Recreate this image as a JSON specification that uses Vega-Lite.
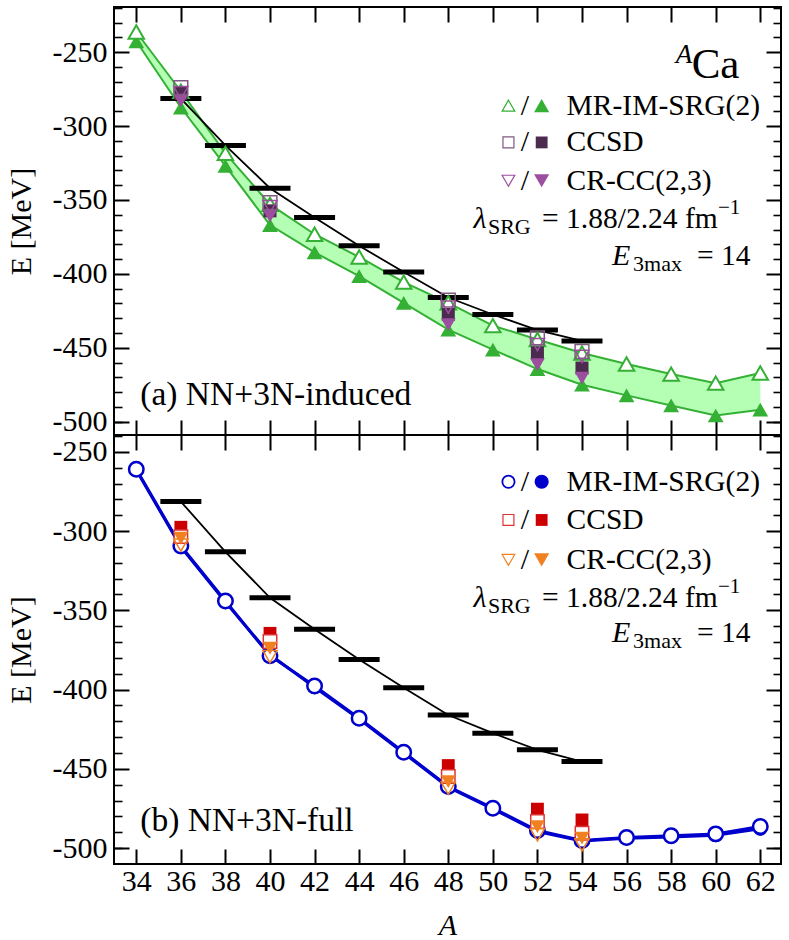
{
  "$schema": "https://vega.github.io/schema/vega-lite/v6.json",
  "padding": {"left": 5, "top": 5, "right": 8, "bottom": 5},
  "background": "white",
  "spacing": 0,
  "bounds": "flush",
  "config": {
    "font": "Liberation Serif",
    "view": {"stroke": "black", "strokeWidth": 2},
    "concat": {"spacing": 0},
    "axis": {"domain": false, "grid": false, "tickColor": "black", "tickWidth": 2, "labelFont": "Liberation Serif", "labelFontSize": 30, "labelColor": "black", "titleFont": "Liberation Serif", "titleFontSize": 30, "titleColor": "black", "titleFontWeight": "normal", "labelExpr": "replace(datum.label, '−', '-')"}
  },
  "datasets": {
    "exp": [
      {"A": 36, "E": -281.4}, {"A": 38, "E": -313.1}, {"A": 40, "E": -342.1}, {"A": 42, "E": -361.9}, {"A": 44, "E": -381.0},
      {"A": 46, "E": -398.8}, {"A": 48, "E": -416.0}, {"A": 50, "E": -427.5}, {"A": 52, "E": -438.0}, {"A": 54, "E": -445.4}
    ],
    "imsrgA": [
      {"A": 34, "open": -236.4, "filled": -242.7}, {"A": 36, "open": -276.5, "filled": -287.5}, {"A": 38, "open": -318.5, "filled": -327.0},
      {"A": 40, "open": -353.0, "filled": -367.0}, {"A": 42, "open": -373.2, "filled": -385.5}, {"A": 44, "open": -388.6, "filled": -401.5},
      {"A": 46, "open": -405.6, "filled": -419.6}, {"A": 48, "open": -419.6, "filled": -437.7}, {"A": 50, "open": -435.0, "filled": -451.2},
      {"A": 52, "open": -444.4, "filled": -464.4}, {"A": 54, "open": -453.5, "filled": -475.0}, {"A": 56, "open": -461.0, "filled": -482.2},
      {"A": 58, "open": -467.8, "filled": -489.0}, {"A": 60, "open": -473.9, "filled": -495.8}, {"A": 62, "open": -467.1, "filled": -491.9}
    ],
    "ccA": [
      {"A": 36, "m": "CCSD", "open": -274.0, "filled": -278.0}, {"A": 40, "m": "CCSD", "open": -351.8, "filled": -357.4},
      {"A": 48, "m": "CCSD", "open": -417.8, "filled": -427.5}, {"A": 52, "m": "CCSD", "open": -443.3, "filled": -453.5},
      {"A": 54, "m": "CCSD", "open": -452.4, "filled": -463.7},
      {"A": 36, "m": "CRCC", "open": -277.5, "filled": -283.0}, {"A": 40, "m": "CRCC", "open": -354.5, "filled": -361.0},
      {"A": 48, "m": "CRCC", "open": -422.5, "filled": -434.3}, {"A": 52, "m": "CRCC", "open": -447.8, "filled": -461.4},
      {"A": 54, "m": "CRCC", "open": -455.8, "filled": -470.5}
    ],
    "imsrgB": [
      {"A": 34, "open": -261.0, "filled": -261.5}, {"A": 36, "open": -309.4, "filled": -310.0}, {"A": 38, "open": -344.1, "filled": -344.8},
      {"A": 40, "open": -378.6, "filled": -378.0}, {"A": 42, "open": -397.7, "filled": -398.5}, {"A": 44, "open": -418.0, "filled": -418.5},
      {"A": 46, "open": -439.5, "filled": -440.0}, {"A": 48, "open": -461.1, "filled": -461.5}, {"A": 50, "open": -474.8, "filled": -475.3},
      {"A": 52, "open": -488.9, "filled": -489.5}, {"A": 54, "open": -495.2, "filled": -495.5}, {"A": 56, "open": -493.3, "filled": -493.8},
      {"A": 58, "open": -492.2, "filled": -492.9}, {"A": 60, "open": -491.0, "filled": -491.8}, {"A": 62, "open": -486.4, "filled": -487.8}
    ],
    "ccB": [
      {"A": 36, "m": "CCSD", "open": -303.5, "filled": -297.6}, {"A": 40, "m": "CCSD", "open": -369.7, "filled": -364.5},
      {"A": 48, "m": "CCSD", "open": -454.8, "filled": -447.9}, {"A": 52, "m": "CCSD", "open": -483.2, "filled": -475.4},
      {"A": 54, "m": "CCSD", "open": -490.6, "filled": -482.2},
      {"A": 36, "m": "CRCC", "open": -308.8, "filled": -304.5}, {"A": 40, "m": "CRCC", "open": -379.2, "filled": -373.9},
      {"A": 48, "m": "CRCC", "open": -462.2, "filled": -458.0}, {"A": 52, "m": "CRCC", "open": -491.6, "filled": -486.4},
      {"A": 54, "m": "CRCC", "open": -497.9, "filled": -493.7}
    ],
    "carrier": [{"A": 40, "E": -300}],
    "legA": [
      {"A": 50.7, "E": -286.2, "s": "tri_open"}, {"A": 52.19, "E": -286.2, "s": "tri_filled"},
      {"A": 50.7, "E": -311.1, "s": "sq_open"}, {"A": 52.19, "E": -311.1, "s": "sq_filled"},
      {"A": 50.7, "E": -337.0, "s": "dn_open"}, {"A": 52.19, "E": -337.0, "s": "dn_filled"}
    ],
    "textA": [
      {"A": 51.44, "E": -286.2, "t": "/", "k": "slash"}, {"A": 51.44, "E": -311.1, "t": "/", "k": "slash"}, {"A": 51.44, "E": -337.0, "t": "/", "k": "slash"},
      {"A": 53.31, "E": -286.2, "t": "MR-IM-SRG(2)", "k": "main"}, {"A": 53.31, "E": -311.1, "t": "CCSD", "k": "main"}, {"A": 53.31, "E": -337.0, "t": "CR-CC(2,3)", "k": "main"},
      {"A": 52.21, "E": -363.0, "t": "= 1.88/2.24 fm", "k": "main"}, {"A": 59.16, "E": -387.9, "t": "= 14", "k": "main"},
      {"A": 49.13, "E": -363.0, "t": "λ", "k": "ital"}, {"A": 55.35, "E": -387.9, "t": "E", "k": "ital"},
      {"A": 49.78, "E": -363.0, "t": "SRG", "k": "sub"}, {"A": 56.29, "E": -387.9, "t": "3max", "k": "sub"},
      {"A": 60.1, "E": -363.0, "t": "−1", "k": "sup"},
      {"A": 58.21, "E": -252.2, "t": "A", "k": "supital"},
      {"A": 58.92, "E": -259.0, "t": "Ca", "k": "big"},
      {"A": 34.18, "E": -481.7, "t": "(a) NN+3N-induced", "k": "panel"}
    ],
    "legB": [
      {"A": 50.7, "E": -268.9, "s": "c_open"}, {"A": 52.19, "E": -268.9, "s": "c_filled"},
      {"A": 50.7, "E": -293.0, "s": "sq_open"}, {"A": 52.19, "E": -293.0, "s": "sq_filled"},
      {"A": 50.7, "E": -318.2, "s": "dn_open"}, {"A": 52.19, "E": -318.2, "s": "dn_filled"}
    ],
    "textB": [
      {"A": 51.44, "E": -268.9, "t": "/", "k": "slash"}, {"A": 51.44, "E": -293.0, "t": "/", "k": "slash"}, {"A": 51.44, "E": -318.2, "t": "/", "k": "slash"},
      {"A": 53.31, "E": -268.9, "t": "MR-IM-SRG(2)", "k": "main"}, {"A": 53.31, "E": -293.0, "t": "CCSD", "k": "main"}, {"A": 53.31, "E": -318.2, "t": "CR-CC(2,3)", "k": "main"},
      {"A": 52.21, "E": -342.4, "t": "= 1.88/2.24 fm", "k": "main"}, {"A": 59.16, "E": -364.4, "t": "= 14", "k": "main"},
      {"A": 49.13, "E": -342.4, "t": "λ", "k": "ital"}, {"A": 55.35, "E": -364.4, "t": "E", "k": "ital"},
      {"A": 49.78, "E": -342.4, "t": "SRG", "k": "sub"}, {"A": 56.29, "E": -364.4, "t": "3max", "k": "sub"},
      {"A": 60.1, "E": -342.4, "t": "−1", "k": "sup"},
      {"A": 34.18, "E": -483.0, "t": "(b) NN+3N-full", "k": "panel"}
    ]
  },
  "vconcat": [
    {
      "width": 667,
      "height": 428,
      "resolve": {"axis": {"x": "independent", "y": "independent"}},
      "layer": [
        {"data": {"name": "imsrgA"}, "mark": {"type": "area", "color": "#b4ffb4"},
         "encoding": {"x": {"field": "A", "type": "quantitative", "scale": {"domain": [33, 62.93], "nice": false, "zero": false}, "axis": null},
                      "y": {"field": "open", "type": "quantitative", "scale": {"domain": [-509, -219.5], "nice": false, "zero": false}, "axis": null},
                      "y2": {"field": "filled"}}},
        {"data": {"name": "imsrgA"}, "mark": {"type": "line", "color": "#34b034", "strokeWidth": 2},
         "encoding": {"x": {"field": "A", "type": "quantitative", "scale": {"domain": [33, 62.93], "nice": false, "zero": false}, "axis": null},
                      "y": {"field": "open", "type": "quantitative", "scale": {"domain": [-509, -219.5], "nice": false, "zero": false}, "axis": null}}},
        {"data": {"name": "imsrgA"}, "mark": {"type": "line", "color": "#34b034", "strokeWidth": 2},
         "encoding": {"x": {"field": "A", "type": "quantitative", "scale": {"domain": [33, 62.93], "nice": false, "zero": false}, "axis": null},
                      "y": {"field": "filled", "type": "quantitative", "scale": {"domain": [-509, -219.5], "nice": false, "zero": false}, "axis": null}}},
        {"data": {"name": "exp"}, "mark": {"type": "line", "color": "black", "strokeWidth": 1.8},
         "encoding": {"x": {"field": "A", "type": "quantitative", "scale": {"domain": [33, 62.93], "nice": false, "zero": false}, "axis": null},
                      "y": {"field": "E", "type": "quantitative", "scale": {"domain": [-509, -219.5], "nice": false, "zero": false}, "axis": null}}},
        {"data": {"name": "exp"}, "mark": {"type": "tick", "orient": "horizontal", "color": "black", "size": 41, "thickness": 5, "opacity": 1},
         "encoding": {"x": {"field": "A", "type": "quantitative", "scale": {"domain": [33, 62.93], "nice": false, "zero": false}, "axis": null},
                      "y": {"field": "E", "type": "quantitative", "scale": {"domain": [-509, -219.5], "nice": false, "zero": false}, "axis": null}}},
        {"data": {"name": "imsrgA"}, "mark": {"type": "point", "shape": "triangle-up", "filled": true, "color": "#34b034", "size": 250, "opacity": 1},
         "encoding": {"x": {"field": "A", "type": "quantitative", "scale": {"domain": [33, 62.93], "nice": false, "zero": false}, "axis": null},
                      "y": {"field": "filled", "type": "quantitative", "scale": {"domain": [-509, -219.5], "nice": false, "zero": false}, "axis": null}}},
        {"data": {"name": "imsrgA"}, "mark": {"type": "point", "shape": "triangle-up", "filled": true, "fill": "white", "stroke": "#34b034", "strokeWidth": 2, "size": 240, "opacity": 1},
         "encoding": {"x": {"field": "A", "type": "quantitative", "scale": {"domain": [33, 62.93], "nice": false, "zero": false}, "axis": null},
                      "y": {"field": "open", "type": "quantitative", "scale": {"domain": [-509, -219.5], "nice": false, "zero": false}, "axis": null}}},
        {"data": {"name": "ccA"}, "transform": [{"filter": "datum.m == 'CCSD'"}], "mark": {"type": "point", "shape": "square", "filled": true, "color": "#4d2a4f", "size": 170, "opacity": 1},
         "encoding": {"x": {"field": "A", "type": "quantitative", "scale": {"domain": [33, 62.93], "nice": false, "zero": false}, "axis": null},
                      "y": {"field": "filled", "type": "quantitative", "scale": {"domain": [-509, -219.5], "nice": false, "zero": false}, "axis": null}}},
        {"data": {"name": "ccA"}, "transform": [{"filter": "datum.m == 'CRCC'"}], "mark": {"type": "point", "shape": "triangle-down", "filled": true, "color": "#9c4f9e", "size": 220, "opacity": 1},
         "encoding": {"x": {"field": "A", "type": "quantitative", "scale": {"domain": [33, 62.93], "nice": false, "zero": false}, "axis": null},
                      "y": {"field": "filled", "type": "quantitative", "scale": {"domain": [-509, -219.5], "nice": false, "zero": false}, "axis": null}}},
        {"data": {"name": "ccA"}, "transform": [{"filter": "datum.m == 'CCSD'"}], "mark": {"type": "point", "shape": "square", "filled": false, "color": "#7f5a80", "strokeWidth": 1.5, "size": 190, "opacity": 1},
         "encoding": {"x": {"field": "A", "type": "quantitative", "scale": {"domain": [33, 62.93], "nice": false, "zero": false}, "axis": null},
                      "y": {"field": "open", "type": "quantitative", "scale": {"domain": [-509, -219.5], "nice": false, "zero": false}, "axis": null}}},
        {"data": {"name": "ccA"}, "transform": [{"filter": "datum.m == 'CRCC'"}], "mark": {"type": "point", "shape": "triangle-down", "filled": false, "color": "#9c4f9e", "strokeWidth": 1.5, "size": 200, "opacity": 1},
         "encoding": {"x": {"field": "A", "type": "quantitative", "scale": {"domain": [33, 62.93], "nice": false, "zero": false}, "axis": null},
                      "y": {"field": "open", "type": "quantitative", "scale": {"domain": [-509, -219.5], "nice": false, "zero": false}, "axis": null}}},
        {"data": {"name": "legA"}, "transform": [{"filter": "datum.s == 'tri_open'"}], "mark": {"type": "point", "shape": "triangle-up", "filled": false, "color": "#34b034", "strokeWidth": 1.2, "size": 160, "opacity": 1},
         "encoding": {"x": {"field": "A", "type": "quantitative", "scale": {"domain": [33, 62.93], "nice": false, "zero": false}, "axis": null},
                      "y": {"field": "E", "type": "quantitative", "scale": {"domain": [-509, -219.5], "nice": false, "zero": false}, "axis": null}}},
        {"data": {"name": "legA"}, "transform": [{"filter": "datum.s == 'tri_filled'"}], "mark": {"type": "point", "shape": "triangle-up", "filled": true, "color": "#34b034", "size": 230, "opacity": 1},
         "encoding": {"x": {"field": "A", "type": "quantitative", "scale": {"domain": [33, 62.93], "nice": false, "zero": false}, "axis": null},
                      "y": {"field": "E", "type": "quantitative", "scale": {"domain": [-509, -219.5], "nice": false, "zero": false}, "axis": null}}},
        {"data": {"name": "legA"}, "transform": [{"filter": "datum.s == 'sq_open'"}], "mark": {"type": "point", "shape": "square", "filled": false, "color": "#7f5a80", "strokeWidth": 1.2, "size": 120, "opacity": 1},
         "encoding": {"x": {"field": "A", "type": "quantitative", "scale": {"domain": [33, 62.93], "nice": false, "zero": false}, "axis": null},
                      "y": {"field": "E", "type": "quantitative", "scale": {"domain": [-509, -219.5], "nice": false, "zero": false}, "axis": null}}},
        {"data": {"name": "legA"}, "transform": [{"filter": "datum.s == 'sq_filled'"}], "mark": {"type": "point", "shape": "square", "filled": true, "color": "#4d2a4f", "size": 140, "opacity": 1},
         "encoding": {"x": {"field": "A", "type": "quantitative", "scale": {"domain": [33, 62.93], "nice": false, "zero": false}, "axis": null},
                      "y": {"field": "E", "type": "quantitative", "scale": {"domain": [-509, -219.5], "nice": false, "zero": false}, "axis": null}}},
        {"data": {"name": "legA"}, "transform": [{"filter": "datum.s == 'dn_open'"}], "mark": {"type": "point", "shape": "triangle-down", "filled": false, "color": "#9c4f9e", "strokeWidth": 1.2, "size": 160, "opacity": 1},
         "encoding": {"x": {"field": "A", "type": "quantitative", "scale": {"domain": [33, 62.93], "nice": false, "zero": false}, "axis": null},
                      "y": {"field": "E", "type": "quantitative", "scale": {"domain": [-509, -219.5], "nice": false, "zero": false}, "axis": null}}},
        {"data": {"name": "legA"}, "transform": [{"filter": "datum.s == 'dn_filled'"}], "mark": {"type": "point", "shape": "triangle-down", "filled": true, "color": "#9c4f9e", "size": 230, "opacity": 1},
         "encoding": {"x": {"field": "A", "type": "quantitative", "scale": {"domain": [33, 62.93], "nice": false, "zero": false}, "axis": null},
                      "y": {"field": "E", "type": "quantitative", "scale": {"domain": [-509, -219.5], "nice": false, "zero": false}, "axis": null}}},
        {"data": {"name": "textA"}, "transform": [{"filter": "datum.k == 'slash'"}], "mark": {"type": "text", "align": "center", "baseline": "middle", "font": "Liberation Serif", "fontSize": 30, "color": "black"},
         "encoding": {"x": {"field": "A", "type": "quantitative", "scale": {"domain": [33, 62.93], "nice": false, "zero": false}, "axis": null},
                      "y": {"field": "E", "type": "quantitative", "scale": {"domain": [-509, -219.5], "nice": false, "zero": false}, "axis": null},
                      "text": {"field": "t"}}},
        {"data": {"name": "textA"}, "transform": [{"filter": "datum.k == 'main'"}], "mark": {"type": "text", "align": "left", "baseline": "middle", "font": "Liberation Serif", "fontSize": 29.5, "color": "black"},
         "encoding": {"x": {"field": "A", "type": "quantitative", "scale": {"domain": [33, 62.93], "nice": false, "zero": false}, "axis": null},
                      "y": {"field": "E", "type": "quantitative", "scale": {"domain": [-509, -219.5], "nice": false, "zero": false}, "axis": null},
                      "text": {"field": "t"}}},
        {"data": {"name": "textA"}, "transform": [{"filter": "datum.k == 'ital'"}], "mark": {"type": "text", "align": "left", "baseline": "middle", "font": "Liberation Serif", "fontSize": 30, "fontStyle": "italic", "color": "black"},
         "encoding": {"x": {"field": "A", "type": "quantitative", "scale": {"domain": [33, 62.93], "nice": false, "zero": false}, "axis": null},
                      "y": {"field": "E", "type": "quantitative", "scale": {"domain": [-509, -219.5], "nice": false, "zero": false}, "axis": null},
                      "text": {"field": "t"}}},
        {"data": {"name": "textA"}, "transform": [{"filter": "datum.k == 'sub'"}], "mark": {"type": "text", "align": "left", "baseline": "middle", "font": "Liberation Serif", "fontSize": 22, "dy": 8, "color": "black"},
         "encoding": {"x": {"field": "A", "type": "quantitative", "scale": {"domain": [33, 62.93], "nice": false, "zero": false}, "axis": null},
                      "y": {"field": "E", "type": "quantitative", "scale": {"domain": [-509, -219.5], "nice": false, "zero": false}, "axis": null},
                      "text": {"field": "t"}}},
        {"data": {"name": "textA"}, "transform": [{"filter": "datum.k == 'sup'"}], "mark": {"type": "text", "align": "left", "baseline": "middle", "font": "Liberation Serif", "fontSize": 21, "dy": -11, "color": "black"},
         "encoding": {"x": {"field": "A", "type": "quantitative", "scale": {"domain": [33, 62.93], "nice": false, "zero": false}, "axis": null},
                      "y": {"field": "E", "type": "quantitative", "scale": {"domain": [-509, -219.5], "nice": false, "zero": false}, "axis": null},
                      "text": {"field": "t"}}},
        {"data": {"name": "textA"}, "transform": [{"filter": "datum.k == 'supital'"}], "mark": {"type": "text", "align": "left", "baseline": "middle", "font": "Liberation Serif", "fontSize": 27, "fontStyle": "italic", "color": "black"},
         "encoding": {"x": {"field": "A", "type": "quantitative", "scale": {"domain": [33, 62.93], "nice": false, "zero": false}, "axis": null},
                      "y": {"field": "E", "type": "quantitative", "scale": {"domain": [-509, -219.5], "nice": false, "zero": false}, "axis": null},
                      "text": {"field": "t"}}},
        {"data": {"name": "textA"}, "transform": [{"filter": "datum.k == 'big'"}], "mark": {"type": "text", "align": "left", "baseline": "middle", "font": "Liberation Serif", "fontSize": 43, "color": "black"},
         "encoding": {"x": {"field": "A", "type": "quantitative", "scale": {"domain": [33, 62.93], "nice": false, "zero": false}, "axis": null},
                      "y": {"field": "E", "type": "quantitative", "scale": {"domain": [-509, -219.5], "nice": false, "zero": false}, "axis": null},
                      "text": {"field": "t"}}},
        {"data": {"name": "textA"}, "transform": [{"filter": "datum.k == 'panel'"}], "mark": {"type": "text", "align": "left", "baseline": "middle", "font": "Liberation Serif", "fontSize": 33.5, "color": "black"},
         "encoding": {"x": {"field": "A", "type": "quantitative", "scale": {"domain": [33, 62.93], "nice": false, "zero": false}, "axis": null},
                      "y": {"field": "E", "type": "quantitative", "scale": {"domain": [-509, -219.5], "nice": false, "zero": false}, "axis": null},
                      "text": {"field": "t"}}},
        {"data": {"name": "carrier"}, "mark": {"type": "point", "opacity": 0},
         "encoding": {"x": {"field": "A", "type": "quantitative", "scale": {"domain": [33, 62.93], "nice": false, "zero": false},
                            "axis": {"orient": "bottom", "values": [34, 36, 38, 40, 42, 44, 46, 48, 50, 52, 54, 56, 58, 60, 62], "tickSize": -15, "labels": false, "title": null}},
                      "y": {"field": "E", "type": "quantitative", "scale": {"domain": [-509, -219.5], "nice": false, "zero": false},
                            "axis": {"orient": "left", "values": [-500, -450, -400, -350, -300, -250], "tickSize": -15, "labelPadding": 22, "title": "E [MeV]", "titlePadding": 16}}}},
        {"data": {"name": "carrier"}, "mark": {"type": "point", "opacity": 0},
         "encoding": {"x": {"field": "A", "type": "quantitative", "scale": {"domain": [33, 62.93], "nice": false, "zero": false},
                            "axis": {"orient": "top", "values": [34, 36, 38, 40, 42, 44, 46, 48, 50, 52, 54, 56, 58, 60, 62], "tickSize": -15, "labels": false, "title": null}},
                      "y": {"field": "E", "type": "quantitative", "scale": {"domain": [-509, -219.5], "nice": false, "zero": false},
                            "axis": {"orient": "left", "values": [-500, -490, -480, -470, -460, -440, -430, -420, -410, -390, -380, -370, -360, -340, -330, -320, -310, -290, -280, -270, -260, -240, -230, -220], "tickSize": -8, "tickWidth": 1.6, "labels": false, "title": null}}}},
        {"data": {"name": "carrier"}, "mark": {"type": "point", "opacity": 0},
         "encoding": {"x": {"field": "A", "type": "quantitative", "scale": {"domain": [33, 62.93], "nice": false, "zero": false}, "axis": null},
                      "y": {"field": "E", "type": "quantitative", "scale": {"domain": [-509, -219.5], "nice": false, "zero": false},
                            "axis": {"orient": "right", "values": [-500, -450, -400, -350, -300, -250], "tickSize": -15, "labels": false, "title": null}}}},
        {"data": {"name": "carrier"}, "mark": {"type": "point", "opacity": 0},
         "encoding": {"x": {"field": "A", "type": "quantitative", "scale": {"domain": [33, 62.93], "nice": false, "zero": false}, "axis": null},
                      "y": {"field": "E", "type": "quantitative", "scale": {"domain": [-509, -219.5], "nice": false, "zero": false},
                            "axis": {"orient": "right", "values": [-500, -490, -480, -470, -460, -440, -430, -420, -410, -390, -380, -370, -360, -340, -330, -320, -310, -290, -280, -270, -260, -240, -230, -220], "tickSize": -8, "tickWidth": 1.6, "labels": false, "title": null}}}}
      ]
    },
    {
      "width": 667,
      "height": 429,
      "resolve": {"axis": {"x": "independent", "y": "independent"}},
      "layer": [
        {"data": {"name": "imsrgB"}, "mark": {"type": "line", "color": "#0000cc", "strokeWidth": 3},
         "encoding": {"x": {"field": "A", "type": "quantitative", "scale": {"domain": [33, 62.93], "nice": false, "zero": false}, "axis": null},
                      "y": {"field": "filled", "type": "quantitative", "scale": {"domain": [-510, -239.4], "nice": false, "zero": false}, "axis": null}}},
        {"data": {"name": "imsrgB"}, "mark": {"type": "line", "color": "#0000cc", "strokeWidth": 3},
         "encoding": {"x": {"field": "A", "type": "quantitative", "scale": {"domain": [33, 62.93], "nice": false, "zero": false}, "axis": null},
                      "y": {"field": "open", "type": "quantitative", "scale": {"domain": [-510, -239.4], "nice": false, "zero": false}, "axis": null}}},
        {"data": {"name": "exp"}, "mark": {"type": "line", "color": "black", "strokeWidth": 1.8},
         "encoding": {"x": {"field": "A", "type": "quantitative", "scale": {"domain": [33, 62.93], "nice": false, "zero": false}, "axis": null},
                      "y": {"field": "E", "type": "quantitative", "scale": {"domain": [-510, -239.4], "nice": false, "zero": false}, "axis": null}}},
        {"data": {"name": "exp"}, "mark": {"type": "tick", "orient": "horizontal", "color": "black", "size": 41, "thickness": 5, "opacity": 1},
         "encoding": {"x": {"field": "A", "type": "quantitative", "scale": {"domain": [33, 62.93], "nice": false, "zero": false}, "axis": null},
                      "y": {"field": "E", "type": "quantitative", "scale": {"domain": [-510, -239.4], "nice": false, "zero": false}, "axis": null}}},
        {"data": {"name": "imsrgB"}, "mark": {"type": "point", "shape": "circle", "filled": true, "color": "#0000cc", "size": 200, "opacity": 1},
         "encoding": {"x": {"field": "A", "type": "quantitative", "scale": {"domain": [33, 62.93], "nice": false, "zero": false}, "axis": null},
                      "y": {"field": "filled", "type": "quantitative", "scale": {"domain": [-510, -239.4], "nice": false, "zero": false}, "axis": null}}},
        {"data": {"name": "imsrgB"}, "mark": {"type": "point", "shape": "circle", "filled": true, "fill": "white", "stroke": "#0000cc", "strokeWidth": 2.5, "size": 210, "opacity": 1},
         "encoding": {"x": {"field": "A", "type": "quantitative", "scale": {"domain": [33, 62.93], "nice": false, "zero": false}, "axis": null},
                      "y": {"field": "open", "type": "quantitative", "scale": {"domain": [-510, -239.4], "nice": false, "zero": false}, "axis": null}}},
        {"data": {"name": "ccB"}, "transform": [{"filter": "datum.m == 'CCSD'"}], "mark": {"type": "point", "shape": "square", "filled": true, "color": "#cc0000", "size": 165, "opacity": 1},
         "encoding": {"x": {"field": "A", "type": "quantitative", "scale": {"domain": [33, 62.93], "nice": false, "zero": false}, "axis": null},
                      "y": {"field": "filled", "type": "quantitative", "scale": {"domain": [-510, -239.4], "nice": false, "zero": false}, "axis": null}}},
        {"data": {"name": "ccB"}, "transform": [{"filter": "datum.m == 'CCSD'"}], "mark": {"type": "point", "shape": "square", "filled": true, "fill": "white", "stroke": "#dd3333", "strokeWidth": 1.5, "size": 180, "opacity": 1},
         "encoding": {"x": {"field": "A", "type": "quantitative", "scale": {"domain": [33, 62.93], "nice": false, "zero": false}, "axis": null},
                      "y": {"field": "open", "type": "quantitative", "scale": {"domain": [-510, -239.4], "nice": false, "zero": false}, "axis": null}}},
        {"data": {"name": "ccB"}, "transform": [{"filter": "datum.m == 'CRCC'"}], "mark": {"type": "point", "shape": "triangle-down", "filled": true, "color": "#f08020", "size": 220, "opacity": 1},
         "encoding": {"x": {"field": "A", "type": "quantitative", "scale": {"domain": [33, 62.93], "nice": false, "zero": false}, "axis": null},
                      "y": {"field": "filled", "type": "quantitative", "scale": {"domain": [-510, -239.4], "nice": false, "zero": false}, "axis": null}}},
        {"data": {"name": "ccB"}, "transform": [{"filter": "datum.m == 'CRCC'"}], "mark": {"type": "point", "shape": "triangle-down", "filled": false, "color": "#f08020", "strokeWidth": 1.5, "size": 200, "opacity": 1},
         "encoding": {"x": {"field": "A", "type": "quantitative", "scale": {"domain": [33, 62.93], "nice": false, "zero": false}, "axis": null},
                      "y": {"field": "open", "type": "quantitative", "scale": {"domain": [-510, -239.4], "nice": false, "zero": false}, "axis": null}}},
        {"data": {"name": "legB"}, "transform": [{"filter": "datum.s == 'c_open'"}], "mark": {"type": "point", "shape": "circle", "filled": false, "color": "#0000cc", "strokeWidth": 1.8, "size": 150, "opacity": 1},
         "encoding": {"x": {"field": "A", "type": "quantitative", "scale": {"domain": [33, 62.93], "nice": false, "zero": false}, "axis": null},
                      "y": {"field": "E", "type": "quantitative", "scale": {"domain": [-510, -239.4], "nice": false, "zero": false}, "axis": null}}},
        {"data": {"name": "legB"}, "transform": [{"filter": "datum.s == 'c_filled'"}], "mark": {"type": "point", "shape": "circle", "filled": true, "color": "#0000cc", "size": 200, "opacity": 1},
         "encoding": {"x": {"field": "A", "type": "quantitative", "scale": {"domain": [33, 62.93], "nice": false, "zero": false}, "axis": null},
                      "y": {"field": "E", "type": "quantitative", "scale": {"domain": [-510, -239.4], "nice": false, "zero": false}, "axis": null}}},
        {"data": {"name": "legB"}, "transform": [{"filter": "datum.s == 'sq_open'"}], "mark": {"type": "point", "shape": "square", "filled": false, "color": "#dd3333", "strokeWidth": 1.2, "size": 120, "opacity": 1},
         "encoding": {"x": {"field": "A", "type": "quantitative", "scale": {"domain": [33, 62.93], "nice": false, "zero": false}, "axis": null},
                      "y": {"field": "E", "type": "quantitative", "scale": {"domain": [-510, -239.4], "nice": false, "zero": false}, "axis": null}}},
        {"data": {"name": "legB"}, "transform": [{"filter": "datum.s == 'sq_filled'"}], "mark": {"type": "point", "shape": "square", "filled": true, "color": "#cc0000", "size": 140, "opacity": 1},
         "encoding": {"x": {"field": "A", "type": "quantitative", "scale": {"domain": [33, 62.93], "nice": false, "zero": false}, "axis": null},
                      "y": {"field": "E", "type": "quantitative", "scale": {"domain": [-510, -239.4], "nice": false, "zero": false}, "axis": null}}},
        {"data": {"name": "legB"}, "transform": [{"filter": "datum.s == 'dn_open'"}], "mark": {"type": "point", "shape": "triangle-down", "filled": false, "color": "#f08020", "strokeWidth": 1.2, "size": 160, "opacity": 1},
         "encoding": {"x": {"field": "A", "type": "quantitative", "scale": {"domain": [33, 62.93], "nice": false, "zero": false}, "axis": null},
                      "y": {"field": "E", "type": "quantitative", "scale": {"domain": [-510, -239.4], "nice": false, "zero": false}, "axis": null}}},
        {"data": {"name": "legB"}, "transform": [{"filter": "datum.s == 'dn_filled'"}], "mark": {"type": "point", "shape": "triangle-down", "filled": true, "color": "#f08020", "size": 230, "opacity": 1},
         "encoding": {"x": {"field": "A", "type": "quantitative", "scale": {"domain": [33, 62.93], "nice": false, "zero": false}, "axis": null},
                      "y": {"field": "E", "type": "quantitative", "scale": {"domain": [-510, -239.4], "nice": false, "zero": false}, "axis": null}}},
        {"data": {"name": "textB"}, "transform": [{"filter": "datum.k == 'slash'"}], "mark": {"type": "text", "align": "center", "baseline": "middle", "font": "Liberation Serif", "fontSize": 30, "color": "black"},
         "encoding": {"x": {"field": "A", "type": "quantitative", "scale": {"domain": [33, 62.93], "nice": false, "zero": false}, "axis": null},
                      "y": {"field": "E", "type": "quantitative", "scale": {"domain": [-510, -239.4], "nice": false, "zero": false}, "axis": null},
                      "text": {"field": "t"}}},
        {"data": {"name": "textB"}, "transform": [{"filter": "datum.k == 'main'"}], "mark": {"type": "text", "align": "left", "baseline": "middle", "font": "Liberation Serif", "fontSize": 29.5, "color": "black"},
         "encoding": {"x": {"field": "A", "type": "quantitative", "scale": {"domain": [33, 62.93], "nice": false, "zero": false}, "axis": null},
                      "y": {"field": "E", "type": "quantitative", "scale": {"domain": [-510, -239.4], "nice": false, "zero": false}, "axis": null},
                      "text": {"field": "t"}}},
        {"data": {"name": "textB"}, "transform": [{"filter": "datum.k == 'ital'"}], "mark": {"type": "text", "align": "left", "baseline": "middle", "font": "Liberation Serif", "fontSize": 30, "fontStyle": "italic", "color": "black"},
         "encoding": {"x": {"field": "A", "type": "quantitative", "scale": {"domain": [33, 62.93], "nice": false, "zero": false}, "axis": null},
                      "y": {"field": "E", "type": "quantitative", "scale": {"domain": [-510, -239.4], "nice": false, "zero": false}, "axis": null},
                      "text": {"field": "t"}}},
        {"data": {"name": "textB"}, "transform": [{"filter": "datum.k == 'sub'"}], "mark": {"type": "text", "align": "left", "baseline": "middle", "font": "Liberation Serif", "fontSize": 22, "dy": 8, "color": "black"},
         "encoding": {"x": {"field": "A", "type": "quantitative", "scale": {"domain": [33, 62.93], "nice": false, "zero": false}, "axis": null},
                      "y": {"field": "E", "type": "quantitative", "scale": {"domain": [-510, -239.4], "nice": false, "zero": false}, "axis": null},
                      "text": {"field": "t"}}},
        {"data": {"name": "textB"}, "transform": [{"filter": "datum.k == 'sup'"}], "mark": {"type": "text", "align": "left", "baseline": "middle", "font": "Liberation Serif", "fontSize": 21, "dy": -11, "color": "black"},
         "encoding": {"x": {"field": "A", "type": "quantitative", "scale": {"domain": [33, 62.93], "nice": false, "zero": false}, "axis": null},
                      "y": {"field": "E", "type": "quantitative", "scale": {"domain": [-510, -239.4], "nice": false, "zero": false}, "axis": null},
                      "text": {"field": "t"}}},
        {"data": {"name": "textB"}, "transform": [{"filter": "datum.k == 'panel'"}], "mark": {"type": "text", "align": "left", "baseline": "middle", "font": "Liberation Serif", "fontSize": 33.5, "color": "black"},
         "encoding": {"x": {"field": "A", "type": "quantitative", "scale": {"domain": [33, 62.93], "nice": false, "zero": false}, "axis": null},
                      "y": {"field": "E", "type": "quantitative", "scale": {"domain": [-510, -239.4], "nice": false, "zero": false}, "axis": null},
                      "text": {"field": "t"}}},
        {"data": {"name": "carrier"}, "mark": {"type": "point", "opacity": 0},
         "encoding": {"x": {"field": "A", "type": "quantitative", "scale": {"domain": [33, 62.93], "nice": false, "zero": false},
                            "axis": {"orient": "bottom", "values": [34, 36, 38, 40, 42, 44, 46, 48, 50, 52, 54, 56, 58, 60, 62], "tickSize": -15, "labelPadding": 17, "title": "A", "titleFontStyle": "italic", "titlePadding": 14}},
                      "y": {"field": "E", "type": "quantitative", "scale": {"domain": [-510, -239.4], "nice": false, "zero": false},
                            "axis": {"orient": "left", "values": [-500, -450, -400, -350, -300, -250], "tickSize": -15, "labelPadding": 22, "title": "E [MeV]", "titlePadding": 16}}}},
        {"data": {"name": "carrier"}, "mark": {"type": "point", "opacity": 0},
         "encoding": {"x": {"field": "A", "type": "quantitative", "scale": {"domain": [33, 62.93], "nice": false, "zero": false},
                            "axis": {"orient": "top", "values": [34, 36, 38, 40, 42, 44, 46, 48, 50, 52, 54, 56, 58, 60, 62], "tickSize": -15, "labels": false, "title": null}},
                      "y": {"field": "E", "type": "quantitative", "scale": {"domain": [-510, -239.4], "nice": false, "zero": false},
                            "axis": {"orient": "left", "values": [-500, -490, -480, -470, -460, -440, -430, -420, -410, -390, -380, -370, -360, -340, -330, -320, -310, -290, -280, -270, -260, -240], "tickSize": -8, "tickWidth": 1.6, "labels": false, "title": null}}}},
        {"data": {"name": "carrier"}, "mark": {"type": "point", "opacity": 0},
         "encoding": {"x": {"field": "A", "type": "quantitative", "scale": {"domain": [33, 62.93], "nice": false, "zero": false}, "axis": null},
                      "y": {"field": "E", "type": "quantitative", "scale": {"domain": [-510, -239.4], "nice": false, "zero": false},
                            "axis": {"orient": "right", "values": [-500, -450, -400, -350, -300, -250], "tickSize": -15, "labels": false, "title": null}}}},
        {"data": {"name": "carrier"}, "mark": {"type": "point", "opacity": 0},
         "encoding": {"x": {"field": "A", "type": "quantitative", "scale": {"domain": [33, 62.93], "nice": false, "zero": false}, "axis": null},
                      "y": {"field": "E", "type": "quantitative", "scale": {"domain": [-510, -239.4], "nice": false, "zero": false},
                            "axis": {"orient": "right", "values": [-500, -490, -480, -470, -460, -440, -430, -420, -410, -390, -380, -370, -360, -340, -330, -320, -310, -290, -280, -270, -260, -240], "tickSize": -8, "tickWidth": 1.6, "labels": false, "title": null}}}}
      ]
    }
  ]
}
